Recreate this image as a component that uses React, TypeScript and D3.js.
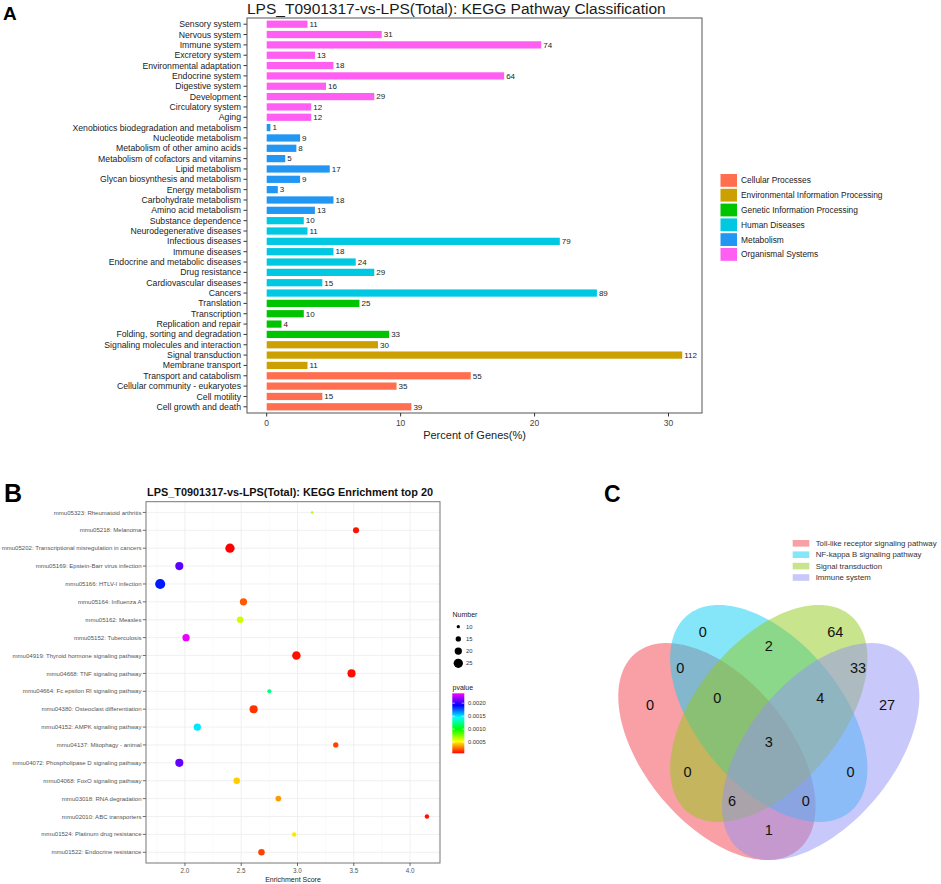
import * as d3 from 'd3';

// ---- Panel A: KEGG pathway classification ----
const pathwayNames = [
  'Sensory system', 'Nervous system', 'Immune system', 'Excretory system',
  'Environmental adaptation', 'Endocrine system', 'Digestive system', 'Development',
  'Circulatory system', 'Aging',
  'Xenobiotics biodegradation and metabolism', 'Nucleotide metabolism',
  'Metabolism of other amino acids', 'Metabolism of cofactors and vitamins',
  'Lipid metabolism', 'Glycan biosynthesis and metabolism', 'Energy metabolism',
  'Carbohydrate metabolism', 'Amino acid metabolism',
  'Substance dependence', 'Neurodegenerative diseases', 'Infectious diseases',
  'Immune diseases', 'Endocrine and metabolic diseases', 'Drug resistance',
  'Cardiovascular diseases', 'Cancers',
  'Translation', 'Transcription', 'Replication and repair',
  'Folding, sorting and degradation',
  'Signaling molecules and interaction', 'Signal transduction', 'Membrane transport',
  'Transport and catabolism', 'Cellular community - eukaryotes', 'Cell motility',
  'Cell growth and death',
];
const pathwayCounts = [
  11, 31, 74, 13, 18, 64, 16, 29, 12, 12,
  1, 9, 8, 5, 17, 9, 3, 18, 13,
  10, 11, 79, 18, 24, 29, 15, 89,
  25, 10, 4, 33,
  30, 112, 11,
  55, 35, 15, 39,
];
const pathwayClass = [
  5, 5, 5, 5, 5, 5, 5, 5, 5, 5,
  4, 4, 4, 4, 4, 4, 4, 4, 4,
  3, 3, 3, 3, 3, 3, 3, 3,
  2, 2, 2, 2,
  1, 1, 1,
  0, 0, 0, 0,
];
const classNames = [
  'Cellular Processes', 'Environmental Information Processing',
  'Genetic Information Processing', 'Human Diseases', 'Metabolism', 'Organismal Systems',
];
const classColors = ['#FF6E4F', '#CCA000', '#00C400', '#00C8E3', '#2196F3', '#FF5EF2'];
const totalGenes = 361;
const percentTicks = [0, 10, 20, 30];

// ---- Panel B: KEGG enrichment top 20 ----
const enrichTerms = [
  'mmu05323: Rheumatoid arthritis', 'mmu05218: Melanoma',
  'mmu05202: Transcriptional misregulation in cancers', 'mmu05169: Epstein-Barr virus infection',
  'mmu05166: HTLV-I infection', 'mmu05164: Influenza A', 'mmu05162: Measles',
  'mmu05152: Tuberculosis', 'mmu04919: Thyroid hormone signaling pathway',
  'mmu04668: TNF signaling pathway', 'mmu04664: Fc epsilon RI signaling pathway',
  'mmu04380: Osteoclast differentiation', 'mmu04152: AMPK signaling pathway',
  'mmu04137: Mitophagy - animal', 'mmu04072: Phospholipase D signaling pathway',
  'mmu04068: FoxO signaling pathway', 'mmu03018: RNA degradation',
  'mmu02010: ABC transporters', 'mmu01524: Platinum drug resistance',
  'mmu01522: Endocrine resistance',
];
const enrichScore = [
  3.13, 3.52, 2.40, 1.95, 1.78, 2.52, 2.49, 2.01, 2.99, 3.48,
  2.75, 2.61, 2.11, 3.34, 1.95, 2.46, 2.83, 4.15, 2.97, 2.68,
];
const enrichNumber = [
  8, 17, 25, 22, 27, 20, 18, 20, 23, 22,
  12, 22, 20, 15, 22, 18, 16, 13, 13, 18,
];
const enrichPvalue = [
  0.00068, 0.0001, 0.00007, 0.00208, 0.00187, 0.00023, 0.00062, 0.00234, 0.0001, 0.00009,
  0.00122, 0.00016, 0.0015, 0.00019, 0.0021, 0.00044, 0.00035, 0.0001, 0.00049, 0.00019,
];
const scoreTicks = [2.0, 2.5, 3.0, 3.5, 4.0];
const numberTicks = [10, 15, 20, 25];
const pvalueTicks = [0.0005, 0.001, 0.0015, 0.002];
const pvalueRange = [0.00007, 0.00238];
const rainbow = ['#FF0000', '#FFFF00', '#00FF00', '#00FFFF', '#0000FF', '#FF00FF'];

// ---- Panel C: Venn ----
const vennSets = [
  'Toll-like receptor signaling pathway', 'NF-kappa B signaling pathway',
  'Signal transduction', 'Immune system',
];
const vennColors = ['#F1414B', '#0BCDF5', '#91C919', '#9191F5'];
// regions: sets included (1=Toll, 2=NF-kB, 3=Signal, 4=Immune)
const vennRegions = ['1', '2', '3', '4', '12', '23', '34', '123', '234', '1234', '13', '24', '134', '124', '14'];
const vennCounts = [0, 0, 64, 27, 0, 2, 33, 0, 4, 3, 0, 0, 6, 0, 1];

const font = 'Liberation Sans, Arial, Helvetica, sans-serif';

function PanelA() {
  const x = d3.scaleLinear().domain([-1.47, 32.5]).range([247, 702]);
  const y = d3.scaleBand().domain(pathwayNames).range([18, 413]).paddingInner(0.3).paddingOuter(0.25);
  const pct = (c: number) => (c / totalGenes) * 100;
  return (
    <g fontFamily={font}>
      <text x={3} y={20} fontSize={19} fontWeight="bold">A</text>
      <text x={247} y={14.3} fontSize={15.5} fill="#1a1a1a">
        LPS_T0901317-vs-LPS(Total): KEGG Pathway Classification
      </text>
      {pathwayNames.map((name, i) => {
        const yy = y(name)!;
        return (
          <g key={name}>
            <rect x={x(0)} y={yy} width={x(pct(pathwayCounts[i])) - x(0)} height={y.bandwidth()}
              fill={classColors[pathwayClass[i]]} />
            <text x={x(pct(pathwayCounts[i])) + 2} y={yy + y.bandwidth() / 2} dy="0.35em"
              fontSize={8} fill="#222">{pathwayCounts[i]}</text>
            <line x1={243.5} x2={247} y1={yy + y.bandwidth() / 2} y2={yy + y.bandwidth() / 2} stroke="#333" />
            <text x={241} y={yy + y.bandwidth() / 2} dy="0.35em" textAnchor="end" fontSize={8.7} fill="#222">
              {name}
            </text>
          </g>
        );
      })}
      <rect x={247} y={18} width={455} height={395} fill="none" stroke="#555" strokeWidth={1} />
      {percentTicks.map((t) => (
        <g key={t}>
          <line x1={x(t)} x2={x(t)} y1={413} y2={416.5} stroke="#333" />
          <text x={x(t)} y={423} dy="0.35em" textAnchor="middle" fontSize={8.5} fill="#444">{t}</text>
        </g>
      ))}
      <text x={474.5} y={435} dy="0.35em" textAnchor="middle" fontSize={11} fill="#222">Percent of Genes(%)</text>
      {classNames.map((c, i) => (
        <g key={c}>
          <rect x={720.5} y={174 + i * 14.8} width={16.5} height={12.8} fill={classColors[i]} />
          <text x={741} y={180.4 + i * 14.8} dy="0.35em" fontSize={8.4} fill="#222">{c}</text>
        </g>
      ))}
    </g>
  );
}

function PanelB() {
  const x = d3.scaleLinear().domain([1.654, 4.266]).range([146, 440]);
  const y = d3.scalePoint().domain(enrichTerms).range([501.7, 863]).padding(0.6);
  const r = d3.scaleLinear().domain([10, 25]).range([1.65, 4.65]);
  const pStops = d3.range(rainbow.length).map((i) => pvalueRange[0] + (i / (rainbow.length - 1)) * (pvalueRange[1] - pvalueRange[0]));
  const color = d3.scaleLinear<string>().domain(pStops).range(rainbow).interpolate(d3.interpolateRgb);
  const bar = d3.scaleLinear().domain(pvalueRange).range([753.3, 693.3]);
  const minorTicks = scoreTicks.slice(0, -1).map((t) => t + 0.25).concat([1.75, 4.25]);
  return (
    <g fontFamily={font}>
      <text x={4} y={502} fontSize={25} fontWeight="bold">B</text>
      <text x={147} y={495.5} fontSize={10.9} fontWeight="bold" fill="#111">
        LPS_T0901317-vs-LPS(Total): KEGG Enrichment top 20
      </text>
      <rect x={146} y={501.7} width={294} height={361.3} fill="#fff" />
      {minorTicks.map((t) => (
        <line key={'m' + t} x1={x(t)} x2={x(t)} y1={501.7} y2={863} stroke="#f4f4f4" strokeWidth={0.5} />
      ))}
      {scoreTicks.map((t) => (
        <line key={'g' + t} x1={x(t)} x2={x(t)} y1={501.7} y2={863} stroke="#ececec" strokeWidth={0.8} />
      ))}
      {enrichTerms.map((t) => (
        <line key={'h' + t} x1={146} x2={440} y1={y(t)} y2={y(t)} stroke="#ececec" strokeWidth={0.8} />
      ))}
      {enrichTerms.map((t, i) => (
        <g key={t}>
          <circle cx={x(enrichScore[i])} cy={y(t)} r={r(enrichNumber[i])} fill={color(enrichPvalue[i])} />
          <line x1={142.8} x2={146} y1={y(t)} y2={y(t)} stroke="#444" strokeWidth={0.8} />
          <text x={141.5} y={y(t)} dy="0.35em" textAnchor="end" fontSize={6.05} fill="#555">{t}</text>
        </g>
      ))}
      <rect x={146} y={501.7} width={294} height={361.3} fill="none" stroke="#777" strokeWidth={1} />
      {scoreTicks.map((t) => (
        <g key={t}>
          <line x1={x(t)} x2={x(t)} y1={863} y2={866} stroke="#444" strokeWidth={0.8} />
          <text x={x(t)} y={871} dy="0.35em" textAnchor="middle" fontSize={6.3} fill="#555">{t.toFixed(1)}</text>
        </g>
      ))}
      <text x={293} y={879.5} dy="0.35em" textAnchor="middle" fontSize={7} fill="#222">Enrichment Score</text>
      <text x={452.5} y={615} dy="0.35em" fontSize={7} fill="#222">Number</text>
      {numberTicks.map((n, i) => (
        <g key={n}>
          <circle cx={458.3} cy={626.7 + i * 12.2} r={r(n)} fill="#000" />
          <text x={466} y={626.7 + i * 12.2} dy="0.35em" fontSize={5.8} fill="#333">{n}</text>
        </g>
      ))}
      <text x={452.5} y={688} dy="0.35em" fontSize={7} fill="#222">pvalue</text>
      <defs>
        <linearGradient id="pgrad" x1="0" y1="1" x2="0" y2="0">
          {pStops.map((p, i) => (
            <stop key={i} offset={(bar(pvalueRange[0]) - bar(p)) / (bar(pvalueRange[0]) - bar(pvalueRange[1]))}
              stopColor={rainbow[i]} />
          ))}
        </linearGradient>
      </defs>
      <rect x={452.3} y={693.3} width={12} height={60} fill="url(#pgrad)" />
      {pvalueTicks.map((p) => (
        <g key={p}>
          <line x1={452.3} x2={455} y1={bar(p)} y2={bar(p)} stroke="#fff" strokeWidth={0.6} />
          <line x1={461.6} x2={464.3} y1={bar(p)} y2={bar(p)} stroke="#fff" strokeWidth={0.6} />
          <text x={468} y={bar(p)} dy="0.35em" fontSize={5.8} fill="#333">{p.toFixed(4)}</text>
        </g>
      ))}
    </g>
  );
}

function PanelC() {
  // VennDiagram-style quad layout in unit coordinates (y up)
  const x = d3.scaleLinear().domain([0.065, 0.935]).range([618.3, 919.3]);
  const y = d3.scaleLinear().domain([0.185, 0.855]).range([860, 605]);
  const ellipses = [
    { cx: 0.35, cy: 0.47, rot: 135 },
    { cx: 0.5, cy: 0.57, rot: 135 },
    { cx: 0.5, cy: 0.57, rot: 45 },
    { cx: 0.65, cy: 0.47, rot: 45 },
  ];
  const labelPos: Record<string, [number, number]> = {
    '1': [0.157, 0.593], '2': [0.309, 0.785], '3': [0.692, 0.785], '4': [0.842, 0.593],
    '12': [0.244, 0.689], '23': [0.5, 0.749], '34': [0.758, 0.689],
    '123': [0.351, 0.611], '234': [0.649, 0.611], '1234': [0.5, 0.496],
    '13': [0.265, 0.417], '24': [0.736, 0.417], '134': [0.394, 0.34], '124': [0.607, 0.34],
    '14': [0.5, 0.264],
  };
  const line = d3.line<[number, number]>().x((d) => x(d[0])).y((d) => y(d[1])).curve(d3.curveLinearClosed);
  const shape = (e: { cx: number; cy: number; rot: number }) => {
    const th = (e.rot * Math.PI) / 180;
    const pts: [number, number][] = d3.range(0, 360, 2).map((deg) => {
      const t = (deg * Math.PI) / 180;
      const px = 0.35 * Math.cos(t);
      const py = 0.2 * Math.sin(t);
      return [e.cx + px * Math.cos(th) - py * Math.sin(th), e.cy + px * Math.sin(th) + py * Math.cos(th)];
    });
    return line(pts)!;
  };
  return (
    <g fontFamily={font}>
      <text x={604} y={501.5} fontSize={23} fontWeight="bold">C</text>
      {vennSets.map((s, i) => (
        <g key={s}>
          <rect x={792.7} y={540 + i * 11.4} width={16.6} height={6.6} fill={vennColors[i]} fillOpacity={0.5} />
          <text x={815.7} y={543.3 + i * 11.4} dy="0.35em" fontSize={7.8} fill="#333">{s}</text>
        </g>
      ))}
      {ellipses.map((e, i) => (
        <path key={i} d={shape(e)} fill={vennColors[i]} fillOpacity={0.5} />
      ))}
      {vennRegions.map((k, i) => (
        <text key={k} x={x(labelPos[k][0])} y={y(labelPos[k][1])} dy="0.36em" textAnchor="middle"
          fontSize={14.5} fill="#111">{vennCounts[i]}</text>
      ))}
    </g>
  );
}

export default function App() {
  return (
    <svg width={941} height={884} style={{ position: 'absolute', left: 0, top: 0, background: '#fff' }}>
      <rect width={941} height={884} fill="#fff" />
      <PanelA />
      <PanelB />
      <PanelC />
    </svg>
  );
}
